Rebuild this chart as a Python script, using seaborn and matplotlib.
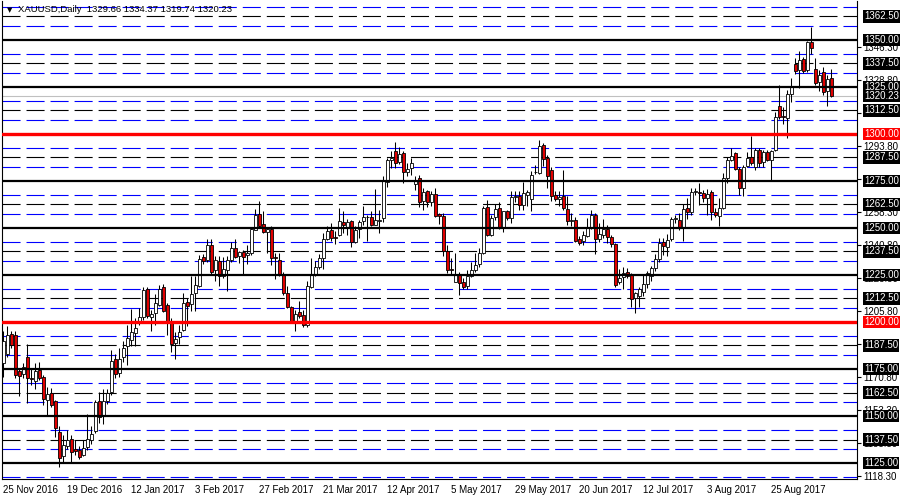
import numpy as np
import pandas as pd
import matplotlib
matplotlib.use("Agg")
import matplotlib.pyplot as plt
import matplotlib.transforms as mtransforms
import seaborn as sns

# ==========================================
# 1. DATA (XAUUSD daily)
# ==========================================
opens = [
    1178, 1183, 1193.5, 1193, 1173.7, 1172.3, 1181.3, 1170, 1168.7, 1174.6,
    1170.7, 1158.7, 1162.5, 1157.8, 1141.3, 1128.6, 1133.9, 1137.8, 1132.5, 1131.8,
    1129, 1133.6, 1137.1, 1141.9, 1157.8, 1149.8, 1157.8, 1162.7, 1180.2, 1172.8,
    1181.3, 1187.3, 1190.5, 1194, 1199.6, 1202.5, 1217.3, 1202.8, 1204.6, 1209,
    1218.4, 1209, 1200.7, 1189, 1192.2, 1195.8, 1210.4, 1209.4, 1215.2, 1219.1,
    1234.6, 1233.2, 1240.8, 1227.8, 1232.6, 1224.3, 1227.8, 1232.8, 1239.4, 1234.9,
    1237.2, 1235.5, 1236.7, 1249.1, 1257.6, 1252.1, 1247.9, 1249.6, 1234.8, 1233.2,
    1225.2, 1215.4, 1208, 1200.4, 1205.3, 1203.9, 1198.6, 1218.6, 1225.7, 1229.3,
    1234, 1244.1, 1248.8, 1245.3, 1246.5, 1253.2, 1250.5, 1253.5, 1242.6, 1249.6,
    1253.5, 1255.6, 1255.8, 1251.8, 1253.5, 1255.3, 1274.3, 1286, 1290.8, 1285.1,
    1289.9, 1279.8, 1281.9, 1273.4, 1276.6, 1264.2, 1269.5, 1263.6, 1268, 1257.4,
    1256.5, 1238, 1228.1, 1221.5, 1225.6, 1221.5, 1219.2, 1224.2, 1227.7, 1230.7,
    1236.6, 1261.1, 1246.4, 1255.8, 1260.6, 1250.4, 1258.8, 1255.2, 1266.5, 1267.1,
    1262.3, 1267.7, 1265.4, 1279.5, 1279.2, 1294.3, 1287.2, 1281, 1267.7, 1265.4,
    1266.8, 1260, 1253.5, 1254.4, 1244.2, 1243.2, 1245.5, 1249.9, 1257, 1244,
    1246.4, 1249.4, 1245.1, 1241.6, 1221, 1223.8, 1226.8, 1225, 1212.6, 1213.9,
    1216.2, 1220, 1224.5, 1228.5, 1233.3, 1242.4, 1240.1, 1244.1, 1255, 1254.3,
    1250.2, 1260.8, 1258.7, 1269, 1269.3, 1268.4, 1265.8, 1269, 1258.3, 1256.6,
    1260.8, 1276.8, 1286.2, 1289.7, 1281.4, 1271.1, 1283.2, 1287.9, 1282.6, 1291.5,
    1285, 1290.6, 1286.2, 1291.5, 1315.1, 1309.6, 1308.3, 1321.1, 1337.1, 1334,
    1339.9, 1334, 1348.8, 1334.6, 1327.8, 1332.8, 1322.9, 1329.66,
]
highs = [
    1195, 1198, 1195, 1195, 1175.4, 1178, 1188.3, 1175.4, 1178, 1178.6,
    1172, 1165.4, 1164.8, 1158.7, 1144.5, 1140, 1142.8, 1140, 1137.5, 1134,
    1137.5, 1151, 1144.9, 1158.7, 1163, 1164.3, 1164.5, 1185.2, 1183, 1186,
    1190, 1198.4, 1206.9, 1202, 1207.2, 1218.4, 1218.4, 1206.5, 1214.7, 1219.6,
    1220, 1210, 1202, 1194.9, 1198.4, 1215.2, 1213, 1224.4, 1224.4, 1235.5,
    1236.3, 1244.3, 1244.3, 1235, 1235, 1234.6, 1235, 1242.4, 1244.1, 1237.5,
    1238.5, 1241, 1250.5, 1260.1, 1264.2, 1258.9, 1250.4, 1250.9, 1236.7, 1236.7,
    1226.4, 1219, 1208.4, 1206.6, 1211, 1206.6, 1221.6, 1234, 1232.3, 1236,
    1247.3, 1251, 1252.5, 1248.4, 1260.6, 1258.9, 1254.8, 1254.4, 1251, 1254.4,
    1261.5, 1257.1, 1258.9, 1270.7, 1259.8, 1277.4, 1287.2, 1290.8, 1295.6, 1293,
    1290.8, 1284.6, 1287.2, 1277.5, 1278.4, 1271.3, 1270.4, 1269.5, 1271.3, 1258,
    1258, 1241, 1234, 1236.6, 1226.4, 1223.3, 1227.6, 1232, 1236.9, 1239.3,
    1261.5, 1265, 1257, 1262.9, 1263.7, 1259.1, 1259.7, 1269.5, 1269.5, 1269.5,
    1274.2, 1270.3, 1280.1, 1283.7, 1296.6, 1295.2, 1289, 1282.4, 1269.5, 1269.5,
    1281, 1266.8, 1257.9, 1255.8, 1245.5, 1248.6, 1255.4, 1259.7, 1257.9, 1252.5,
    1254.8, 1251.8, 1246.4, 1242, 1228.1, 1229.2, 1228.6, 1226, 1216.2, 1218.8,
    1225, 1227, 1230, 1236, 1244.5, 1244.5, 1247, 1256, 1257, 1257.9,
    1262.6, 1265.8, 1271.3, 1271.3, 1273.8, 1270.2, 1270.9, 1270.2, 1260.5, 1265.8,
    1279.1, 1288, 1292.4, 1290.2, 1282.6, 1283.5, 1290.6, 1299.1, 1292.4, 1292.4,
    1291.5, 1291.5, 1291.5, 1311.7, 1326.1, 1314.5, 1323.4, 1329.6, 1340.3, 1344.1,
    1341.1, 1349.5, 1357.1, 1340.3, 1334, 1335.8, 1331.2, 1334.37,
]
lows = [
    1171, 1181.6, 1186, 1170, 1160.4, 1170, 1157, 1166.6, 1164.3, 1169,
    1156, 1149.8, 1154.8, 1139, 1122.8, 1125, 1132.5, 1125, 1129.5, 1127.2,
    1128.6, 1132, 1135, 1141, 1146.3, 1146, 1156.5, 1161, 1170.1, 1170.5,
    1178.8, 1177.2, 1187.3, 1187, 1198.4, 1201, 1202, 1195.4, 1198.4, 1208.5,
    1205.5, 1193, 1184.3, 1180.2, 1188.3, 1195, 1198, 1206, 1206, 1218.4,
    1231, 1232, 1225.4, 1221.6, 1219, 1223.5, 1216.3, 1232, 1234, 1231.5,
    1225.7, 1231, 1235.8, 1248.8, 1250.5, 1247.3, 1236.7, 1230.5, 1222.9, 1224.3,
    1214.5, 1207.5, 1199.5, 1195, 1202, 1197.3, 1197.3, 1218, 1224.5, 1228.2,
    1228.2, 1243.8, 1243, 1241.3, 1245.6, 1247.5, 1246.5, 1239.9, 1242, 1244.6,
    1251.8, 1243.3, 1251, 1251.5, 1247.4, 1253, 1271.8, 1281.9, 1281.9, 1284.2,
    1273.9, 1277.5, 1278.4, 1270.4, 1261.2, 1259.4, 1261.2, 1261.8, 1255.8, 1252,
    1235.2, 1226, 1225.6, 1221.5, 1214.4, 1217.4, 1217.4, 1224, 1226.8, 1229.5,
    1236.2, 1245.5, 1245.9, 1254, 1249.4, 1247.6, 1254.3, 1252.9, 1264, 1259.4,
    1259.4, 1261.5, 1258.8, 1278.5, 1278.8, 1282.9, 1271.2, 1264.1, 1264.1, 1261.5,
    1259.7, 1251.4, 1251.2, 1242.8, 1241, 1241, 1245.1, 1249.4, 1236.2, 1242.8,
    1244.8, 1242.1, 1240, 1218.5, 1220.3, 1217.4, 1223.3, 1208.2, 1204.6, 1208.2,
    1213.7, 1218, 1222, 1227, 1232, 1235.6, 1235, 1243.1, 1252.5, 1248.8,
    1243.1, 1254.8, 1256.9, 1267.6, 1262.2, 1264, 1256.9, 1254.3, 1256, 1251.2,
    1260.1, 1273.9, 1285.8, 1280.9, 1267.6, 1267.2, 1282.6, 1283.5, 1280.9, 1282.6,
    1282.6, 1285.6, 1275.5, 1291, 1308, 1305.5, 1297.7, 1316.8, 1331.8, 1324.5,
    1332.5, 1332.8, 1342.3, 1325.9, 1322.6, 1320.7, 1315.1, 1319.74,
]
closes = [
    1190, 1193, 1187.5, 1172, 1171.4, 1176.3, 1170.1, 1169.5, 1174, 1170.1,
    1159, 1161.7, 1156, 1143.6, 1127.7, 1134.4, 1137.5, 1130.7, 1131.3, 1128.3,
    1133, 1137.8, 1140.5, 1157.4, 1149.5, 1157.8, 1162.2, 1179.5, 1172.3, 1180.2,
    1186, 1191.3, 1194.9, 1196.6, 1202.5, 1217, 1203.2, 1204, 1209.9, 1217.8,
    1206, 1199.6, 1188.3, 1190.8, 1194.9, 1209.9, 1208.5, 1214.7, 1219.6, 1233.7,
    1232.3, 1240.8, 1226.7, 1233.2, 1224.3, 1228.2, 1233.2, 1239.4, 1234.6, 1237.2,
    1234.4, 1236.7, 1249.6, 1257.1, 1250.9, 1247.7, 1249.5, 1234, 1234.2, 1225.2,
    1215.4, 1208, 1200.4, 1204.3, 1203.4, 1198.6, 1219, 1225.7, 1229.3, 1234,
    1244.1, 1248.6, 1244.7, 1244.8, 1253.5, 1251.8, 1253, 1242.6, 1249.1, 1253,
    1255.8, 1256, 1251.4, 1254.1, 1254.4, 1274.8, 1286.3, 1287.2, 1284.6, 1289.5,
    1279.8, 1281.4, 1284.6, 1275.4, 1263.8, 1269.1, 1263.7, 1268.2, 1256.5, 1256.1,
    1238, 1227.4, 1227.4, 1225.6, 1220.6, 1218.5, 1224.5, 1227.7, 1230.4, 1236.6,
    1260.6, 1246.4, 1255.2, 1260, 1249.9, 1258.8, 1255.2, 1266.4, 1267, 1262.3,
    1268.6, 1268.9, 1278, 1280, 1293.8, 1286.7, 1277.4, 1266.8, 1265.4, 1266.4,
    1260.6, 1253.5, 1254, 1243.3, 1241.9, 1246.4, 1250.3, 1257, 1244, 1246.9,
    1249.4, 1245.1, 1241.6, 1219.7, 1223.3, 1226.3, 1224.2, 1212.1, 1215.3, 1217.4,
    1220.2, 1226, 1228.5, 1233.3, 1241.8, 1240.6, 1243.6, 1254.8, 1255.5, 1250.2,
    1259.9, 1258.7, 1269, 1269.5, 1268.8, 1266.1, 1267.9, 1258.7, 1256.9, 1260.5,
    1276.8, 1286.2, 1288.5, 1281.4, 1271.1, 1282.6, 1287.4, 1284.4, 1291.5, 1284.4,
    1290.6, 1286.2, 1291, 1309.2, 1309.2, 1308.8, 1321.1, 1325.2, 1333.5, 1339.4,
    1333.5, 1348.8, 1345.9, 1327, 1331.4, 1322.5, 1329.3, 1320.23,
]

date_labels = ["25 Nov 2016", "19 Dec 2016", "12 Jan 2017", "3 Feb 2017",
               "27 Feb 2017", "21 Mar 2017", "12 Apr 2017", "5 May 2017",
               "29 May 2017", "20 Jun 2017", "12 Jul 2017", "3 Aug 2017",
               "25 Aug 2017"]
date_label_bars = [0, 16, 32, 48, 64, 80, 96, 112, 128, 144, 160, 176, 192]

scale_ticks = [1118.3, 1135.8, 1153.3, 1170.8, 1188.3, 1205.8, 1223.3,
               1240.8, 1258.3, 1276.3, 1293.8, 1311.3, 1328.8, 1346.3]

# level lines (horizontal objects)
solid_levels = [1125, 1150, 1175, 1225, 1250, 1275, 1325, 1350]
red_levels = [1200, 1300]
dashed_levels = [1137.5, 1162.5, 1187.5, 1212.5, 1237.5, 1262.5, 1287.5,
                 1312.5, 1337.5, 1362.5]
blue_levels = [1117.5, 1132.5, 1142.5, 1157.5, 1167.5, 1182.5, 1192.5, 1207.5,
               1217.5, 1232.5, 1242.5, 1257.5, 1267.5, 1282.5, 1292.5, 1307.5,
               1317.5, 1332.5, 1342.5, 1357.5, 1367.5]
last_price = 1320.23

title_text = "XAUUSD,Daily  1329.66 1334.37 1319.74 1320.23"

# ==========================================
# 2. STYLE
# ==========================================
sns.set_theme(style="white")
plt.rcParams['font.family'] = ['Liberation Sans', 'DejaVu Sans']
plt.rcParams['lines.scale_dashes'] = False

df = pd.DataFrame({'o': opens, 'h': highs, 'l': lows, 'c': closes})
df['bar'] = np.arange(len(df))
df['up'] = df['c'] >= df['o']

fig = plt.figure(figsize=(9, 5), dpi=100)
ax = fig.add_axes([2 / 900, 21 / 500, 855 / 900, 478 / 500])
ax.set_facecolor('white')

# ==========================================
# 3. CANDLES
# ==========================================
ax.vlines(df['bar'], df['l'], df['h'], color='black', lw=0.75, zorder=3)
up = df[df['up']]
dn = df[~df['up']]
ax.bar(up['bar'], up['c'] - up['o'], bottom=up['o'], width=0.72,
       color='white', edgecolor='black', linewidth=0.6, zorder=4)
ax.bar(dn['bar'], dn['c'] - dn['o'], bottom=dn['o'], width=0.72,
       color='#e00000', edgecolor='black', linewidth=0.6, zorder=4)

# ==========================================
# 4. LEVEL LINES
# ==========================================
dash = (0, (13, 4.3))
for lv in blue_levels:
    ax.axhline(lv, color='#0000ff', lw=0.8, ls=dash, zorder=2)
for lv in dashed_levels:
    ax.axhline(lv, color='black', lw=0.8, ls=dash, zorder=2)
for lv in solid_levels:
    ax.axhline(lv, color='black', lw=1.6, zorder=5)
for lv in red_levels:
    ax.axhline(lv, color='#ff0000', lw=2.4, zorder=5)
ax.axhline(last_price, color='#c0c0c0', lw=0.8, zorder=2)

# ==========================================
# 5. AXES
# ==========================================
ax.set_xlim(-0.3, 213.45)
ax.set_ylim(1116.5, 1370.7)

ax.yaxis.tick_right()
ax.set_yticks(scale_ticks, [f"{v:.2f}" for v in scale_ticks])
ax.set_xticks(date_label_bars, date_labels)
ax.tick_params(axis='y', direction='out', length=3, width=0.8, pad=1.5,
               labelsize=7, colors='black')
ax.tick_params(axis='x', direction='out', length=3, width=0.8, pad=1,
               labelsize=7, colors='black')
for lab in ax.get_xticklabels():
    lab.set_horizontalalignment('left')
ax.grid(False)
for side in ['left', 'right', 'bottom']:
    ax.spines[side].set_color('black')
    ax.spines[side].set_linewidth(0.8)
ax.spines['top'].set_visible(False)

# price boxes on the right scale
trans = mtransforms.blended_transform_factory(ax.transAxes, ax.transData)
box_levels = sorted(solid_levels + dashed_levels, reverse=True)
for lv in box_levels:
    ax.text(1.0082, lv, f"{lv:.2f}", transform=trans, ha='left', va='center',
            fontsize=7, color='white', clip_on=False, zorder=6,
            bbox=dict(boxstyle='square,pad=0.12', fc='black', ec='none'))
for lv in red_levels:
    ax.text(1.0082, lv, f"{lv:.2f}", transform=trans, ha='left', va='center',
            fontsize=7, color='white', clip_on=False, zorder=6,
            bbox=dict(boxstyle='square,pad=0.12', fc='#ff0000', ec='none'))
ax.text(1.0082, last_price, f"{last_price:.2f}", transform=trans, ha='left',
        va='center', fontsize=7, color='white', clip_on=False, zorder=7,
        bbox=dict(boxstyle='square,pad=0.12', fc='black', ec='none'))

# title in the top-left corner
ax.text(5 / 855, 1 - 9 / 478, "\u25BC", transform=ax.transAxes, fontsize=5,
        va='center', ha='left', color='black', family=['DejaVu Sans'], zorder=8)
ax.text(16 / 855, 1 - 9 / 478, title_text, transform=ax.transAxes, fontsize=6.8,
        va='center', ha='left', color='black', zorder=8)

fig.savefig("out.png", dpi=100, facecolor='white')
